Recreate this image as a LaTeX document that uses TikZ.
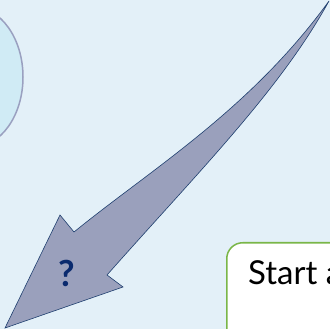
\documentclass[tikz,border=0pt]{standalone}
\usepackage{fontspec}
\setmainfont{Lato}
\usetikzlibrary{shapes.geometric}
\definecolor{bgc}{HTML}{E3F0F8}
\definecolor{ellfill}{HTML}{D0EBF5}
\definecolor{elledge}{HTML}{9AA0C0}
\definecolor{arrfill}{HTML}{9AA0BC}
\definecolor{arredge}{HTML}{1F3F6F}
\definecolor{qcol}{HTML}{0A2A6E}
\definecolor{boxedge}{HTML}{7AB648}
\tikzset{
  ellbox/.style={draw=elledge, fill=ellfill, line width=1.5pt, ellipse, minimum width=100pt, minimum height=140pt, inner sep=0pt},
  textbox/.style={draw=boxedge, fill=white, line width=1.5pt, rounded corners=16pt, anchor=north west, minimum width=200pt, minimum height=150pt, inner sep=0pt},
  bigarrow/.style={fill=arrfill, draw=arredge, line width=0.6pt, line join=miter},
}
\begin{document}
\begin{tikzpicture}[x=1pt,y=-1pt]
\useasboundingbox (0,0) rectangle (330,329);
\clip (0,0) rectangle (330,329);
\fill[bgc] (0,0) rectangle (330,329);
\node[ellbox] (ell) at (-27,77) {};
\node[textbox] (box) at (226,242) {};
\node[anchor=base west, font=\fontsize{33}{38}\selectfont, inner sep=0pt] (txt) at (248,284) {Start a};
\coordinate (tail) at (329,1);
\coordinate (tip) at (5,328);
\path[bigarrow] (tail) .. controls (250,110) and (150,170) .. (74,232) -- (60,215) -- (tip) -- (123,287) -- (107,275) .. controls (200,170) and (280,90) .. (tail) -- cycle;
\node[text=qcol, font=\fontsize{36}{40}\selectfont\bfseries, inner sep=0pt] (q) at (67,273) {?};
\end{tikzpicture}
\end{document}
